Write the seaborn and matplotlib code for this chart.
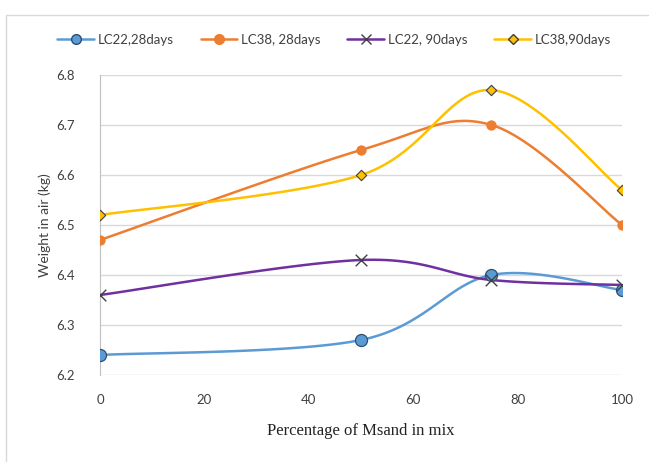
import numpy as np
import pandas as pd
import matplotlib
matplotlib.use("Agg")
import matplotlib.pyplot as plt
from matplotlib.lines import Line2D
from matplotlib.patches import Rectangle
import seaborn as sns

msand = [0, 50, 75, 100]
lc22_28 = [6.24, 6.27, 6.40, 6.37]
lc38_28 = [6.47, 6.65, 6.70, 6.50]
lc22_90 = [6.36, 6.43, 6.39, 6.38]
lc38_90 = [6.52, 6.60, 6.77, 6.57]
labels = ["LC22,28days", "LC38, 28days", "LC22, 90days", "LC38,90days"]
colors = ["#5B9BD5", "#ED7D31", "#7030A0", "#FFC000"]


def excel_smooth(x, y, n=40):
    # Excel-style smoothed line: cubic bezier with catmull-rom control points
    pts = np.column_stack([x, y]).astype(float)
    out = []
    for i in range(len(pts) - 1):
        p0 = pts[i - 1] if i > 0 else pts[i]
        p1, p2 = pts[i], pts[i + 1]
        p3 = pts[i + 2] if i + 2 < len(pts) else pts[i + 1]
        c1 = p1 + (p2 - p0) / 6
        c2 = p2 - (p3 - p1) / 6
        t = np.linspace(0, 1, n)[:, None]
        seg = ((1 - t) ** 3) * p1 + 3 * ((1 - t) ** 2) * t * c1 + 3 * (1 - t) * t ** 2 * c2 + t ** 3 * p2
        out.append(seg if i == 0 else seg[1:])
    out = np.vstack(out)
    return out[:, 0], out[:, 1]


sns.set_style("white")
plt.rcParams["font.family"] = ["Lato", "DejaVu Sans"]

fig = plt.figure(figsize=(6.49, 4.62), dpi=100)
ax = fig.add_axes([100 / 649, 1 - 375 / 462, 522 / 649, 300 / 462])

fig.patches.append(Rectangle((6 / 649, -0.1), 1.2, 1 - 15 / 462 + 0.1, transform=fig.transFigure,
                             fill=False, edgecolor="#d9d9d9", linewidth=1.0, zorder=0))

series = [lc22_28, lc38_28, lc22_90, lc38_90]
marker_styles = [
    dict(marker="o", s=75, edgecolor="#2f4f6f", linewidth=0.9),
    dict(marker="o", s=55, edgecolor="#ED7D31", linewidth=0),
    dict(marker="x", s=70, color="#404040", linewidth=1.0),
    dict(marker="D", s=28, edgecolor="#404040", linewidth=0.8),
]

for vals, lab, col, ms in zip(series, labels, colors, marker_styles):
    sx, sy = excel_smooth(msand, vals)
    sns.lineplot(x=sx, y=sy, sort=False, estimator=None, color=col, linewidth=1.8, ax=ax, zorder=3)
    kw = dict(ms)
    if kw["marker"] != "x":
        kw["color"] = col
    sns.scatterplot(x=msand, y=vals, ax=ax, zorder=4, **kw)

ax.set_xlim(0, 100)
ax.set_ylim(6.2, 6.8)
ax.set_xticks([0, 20, 40, 60, 80, 100])
ax.set_yticks(np.arange(6.2, 6.81, 0.1))
ax.set_yticklabels([f"{v:.1f}" for v in np.arange(6.2, 6.81, 0.1)])
ax.grid(axis="y", color="#d9d9d9", linewidth=1.0)
ax.set_axisbelow(True)
for s in ["top", "right", "bottom"]:
    ax.spines[s].set_visible(False)
ax.spines["left"].set_color("#bfbfbf")
ax.tick_params(axis="both", length=0, labelsize=9.5, labelcolor="#404040", pad=14)
ax.tick_params(axis="y", pad=18)

ax.set_ylabel("Weight in air (kg)", fontsize=10, color="#404040", labelpad=4)
ax.set_xlabel("Percentage of Msand in mix", fontsize=12, color="#222222",
              family=["Liberation Serif"], labelpad=12)

handles = [
    Line2D([], [], color=colors[0], lw=1.8, marker="o", ms=7, mfc=colors[0], mec="#2f4f6f"),
    Line2D([], [], color=colors[1], lw=1.8, marker="o", ms=7, mfc=colors[1], mec=colors[1]),
    Line2D([], [], color=colors[2], lw=1.8, marker="x", ms=7, mec="#404040"),
    Line2D([], [], color=colors[3], lw=1.8, marker="D", ms=5, mfc=colors[3], mec="#404040"),
]
fig.legend(handles, labels, loc="center", bbox_to_anchor=(0.515, 1 - 40 / 462), ncol=4,
           frameon=False, fontsize=9.5, handlelength=2.8, columnspacing=2.0, handletextpad=0.3,
           labelcolor="#404040")

fig.savefig("out.png", dpi=100)
